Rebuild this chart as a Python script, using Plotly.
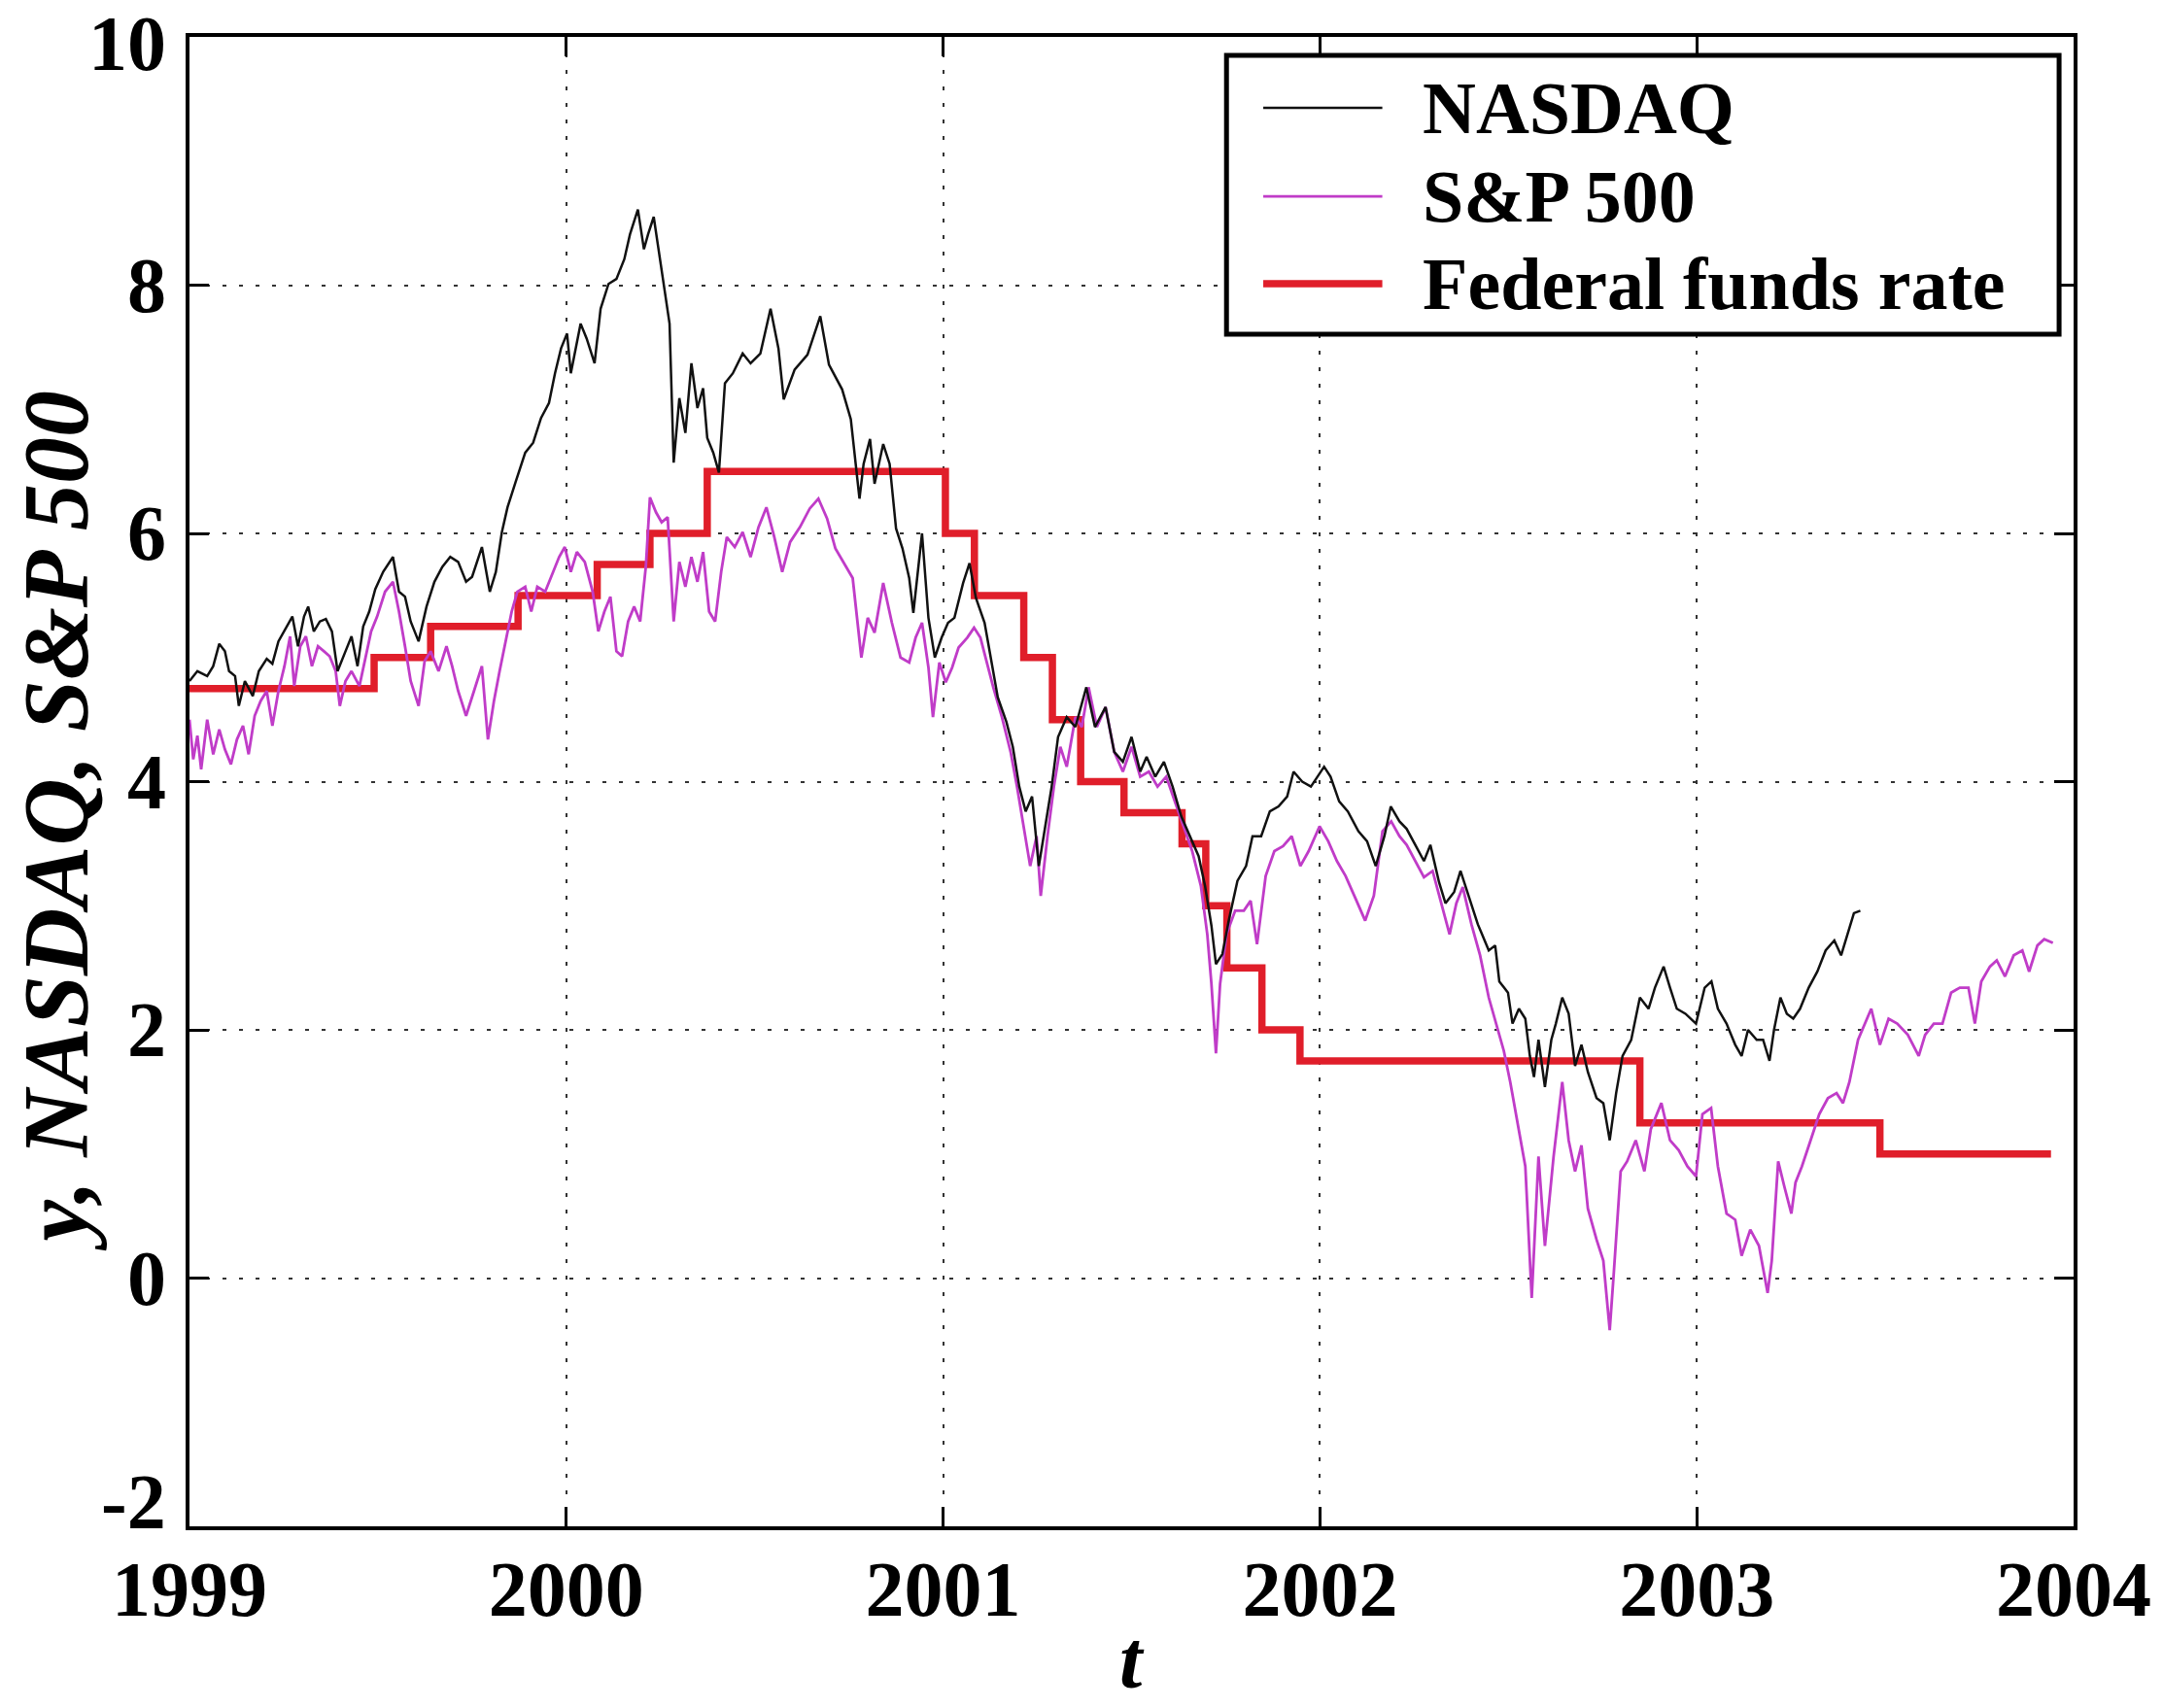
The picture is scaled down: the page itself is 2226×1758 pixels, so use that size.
import plotly.graph_objects as go

# NASDAQ (scaled)
nasdaq_t = [
    1999.000, 1999.021, 1999.047, 1999.063, 1999.079, 1999.094, 1999.105, 1999.121, 1999.131, 1999.147,
    1999.168, 1999.184, 1999.205, 1999.220, 1999.236, 1999.257, 1999.273, 1999.288, 1999.304, 1999.315,
    1999.330, 1999.346, 1999.362, 1999.378, 1999.393, 1999.414, 1999.430, 1999.446, 1999.461, 1999.477,
    1999.493, 1999.514, 1999.540, 1999.556, 1999.572, 1999.587, 1999.608, 1999.629, 1999.650, 1999.671,
    1999.692, 1999.713, 1999.734, 1999.750, 1999.776, 1999.797, 1999.813, 1999.829, 1999.844, 1999.865,
    1999.891, 1999.912, 1999.933, 1999.954, 1999.970, 1999.986, 2000.002, 2000.012, 2000.023, 2000.038,
    2000.054, 2000.075, 2000.091, 2000.112, 2000.133, 2000.154, 2000.169, 2000.190, 2000.206, 2000.217,
    2000.232, 2000.248, 2000.259, 2000.274, 2000.285, 2000.300, 2000.316, 2000.332, 2000.348, 2000.363,
    2000.374, 2000.390, 2000.405, 2000.421, 2000.442, 2000.468, 2000.489, 2000.515, 2000.542, 2000.563,
    2000.577, 2000.606, 2000.640, 2000.674, 2000.697, 2000.732, 2000.755, 2000.778, 2000.789, 2000.806,
    2000.818, 2000.841, 2000.858, 2000.875, 2000.892, 2000.910, 2000.921, 2000.944, 2000.961, 2000.978,
    2000.996, 2001.013, 2001.030, 2001.053, 2001.070, 2001.087, 2001.110, 2001.127, 2001.145, 2001.168,
    2001.185, 2001.202, 2001.219, 2001.236, 2001.254, 2001.271, 2001.288, 2001.305, 2001.328, 2001.351,
    2001.380, 2001.403, 2001.431, 2001.454, 2001.477, 2001.500, 2001.523, 2001.540, 2001.563, 2001.586,
    2001.609, 2001.632, 2001.655, 2001.678, 2001.695, 2001.712, 2001.724, 2001.741, 2001.758, 2001.781,
    2001.804, 2001.821, 2001.844, 2001.867, 2001.890, 2001.913, 2001.930, 2001.953, 2001.976, 2001.993,
    2002.011, 2002.028, 2002.051, 2002.074, 2002.102, 2002.125, 2002.148, 2002.171, 2002.188, 2002.211,
    2002.230, 2002.253, 2002.276, 2002.293, 2002.316, 2002.333, 2002.356, 2002.373, 2002.396, 2002.419,
    2002.448, 2002.465, 2002.476, 2002.499, 2002.511, 2002.528, 2002.545, 2002.557, 2002.568, 2002.580,
    2002.597, 2002.614, 2002.626, 2002.643, 2002.660, 2002.677, 2002.694, 2002.711, 2002.734, 2002.752,
    2002.769, 2002.786, 2002.803, 2002.826, 2002.849, 2002.872, 2002.889, 2002.912, 2002.929, 2002.947,
    2002.970, 2002.998, 2003.021, 2003.039, 2003.056, 2003.079, 2003.102, 2003.119, 2003.136, 2003.159,
    2003.176, 2003.193, 2003.205, 2003.222, 2003.239, 2003.256, 2003.274, 2003.297, 2003.320, 2003.342,
    2003.365, 2003.383, 2003.400, 2003.417, 2003.434,
]
nasdaq_v = [
    4.81, 4.89, 4.85, 4.93, 5.11, 5.05, 4.89, 4.85, 4.61, 4.81,
    4.69, 4.89, 4.99, 4.95, 5.13, 5.25, 5.33, 5.09, 5.33, 5.41,
    5.21, 5.29, 5.31, 5.21, 4.89, 5.05, 5.17, 4.93, 5.25, 5.37,
    5.55, 5.69, 5.81, 5.53, 5.49, 5.29, 5.13, 5.41, 5.61, 5.73,
    5.81, 5.77, 5.61, 5.65, 5.89, 5.53, 5.69, 6.01, 6.21, 6.41,
    6.65, 6.73, 6.93, 7.05, 7.29, 7.49, 7.61, 7.29, 7.45, 7.69,
    7.57, 7.37, 7.81, 8.01, 8.05, 8.21, 8.41, 8.61, 8.29, 8.41,
    8.55, 8.21, 8.01, 7.69, 6.57, 7.09, 6.81, 7.37, 7.01, 7.17,
    6.77, 6.65, 6.49, 7.21, 7.29, 7.45, 7.37, 7.45, 7.81, 7.49,
    7.08, 7.32, 7.44, 7.75, 7.36, 7.16, 6.92, 6.28, 6.56, 6.76,
    6.40, 6.72, 6.56, 6.04, 5.88, 5.64, 5.36, 6.00, 5.32, 5.00,
    5.16, 5.28, 5.32, 5.60, 5.76, 5.48, 5.28, 5.00, 4.68, 4.48,
    4.28, 3.96, 3.76, 3.88, 3.32, 3.64, 3.96, 4.36, 4.52, 4.44,
    4.76, 4.44, 4.60, 4.24, 4.16, 4.36, 4.08, 4.20, 4.04, 4.16,
    3.96, 3.72, 3.56, 3.40, 3.16, 2.84, 2.53, 2.61, 2.88, 3.20,
    3.32, 3.56, 3.56, 3.76, 3.80, 3.88, 4.08, 4.00, 3.96, 4.04,
    4.12, 4.04, 3.84, 3.76, 3.60, 3.52, 3.32, 3.56, 3.80, 3.68,
    3.62, 3.49, 3.36, 3.49, 3.19, 3.02, 3.11, 3.28, 3.06, 2.85,
    2.64, 2.68, 2.39, 2.30, 2.05, 2.17, 2.09, 1.79, 1.62, 1.92,
    1.54, 1.92, 2.05, 2.26, 2.13, 1.71, 1.88, 1.66, 1.45, 1.41,
    1.11, 1.49, 1.79, 1.92, 2.26, 2.17, 2.34, 2.51, 2.34, 2.17,
    2.13, 2.05, 2.34, 2.39, 2.17, 2.05, 1.88, 1.79, 2.00, 1.92,
    1.92, 1.75, 2.00, 2.26, 2.13, 2.09, 2.17, 2.34, 2.47, 2.64,
    2.72, 2.60, 2.77, 2.94, 2.96,
]

# S&P 500 (scaled)
sp_t = [
    1999.000, 1999.010, 1999.021, 1999.031, 1999.047, 1999.063, 1999.079, 1999.094, 1999.110, 1999.126,
    1999.142, 1999.157, 1999.173, 1999.189, 1999.205, 1999.220, 1999.236, 1999.252, 1999.267, 1999.278,
    1999.294, 1999.309, 1999.325, 1999.341, 1999.357, 1999.372, 1999.388, 1999.399, 1999.414, 1999.430,
    1999.451, 1999.467, 1999.482, 1999.498, 1999.519, 1999.540, 1999.556, 1999.572, 1999.587, 1999.608,
    1999.624, 1999.640, 1999.661, 1999.682, 1999.697, 1999.713, 1999.734, 1999.755, 1999.776, 1999.792,
    1999.808, 1999.823, 1999.839, 1999.855, 1999.870, 1999.891, 1999.907, 1999.923, 1999.944, 1999.965,
    1999.981, 1999.996, 2000.012, 2000.028, 2000.049, 2000.070, 2000.085, 2000.101, 2000.117, 2000.133,
    2000.148, 2000.164, 2000.180, 2000.196, 2000.211, 2000.222, 2000.238, 2000.253, 2000.269, 2000.285,
    2000.300, 2000.316, 2000.332, 2000.348, 2000.363, 2000.379, 2000.395, 2000.411, 2000.426, 2000.447,
    2000.468, 2000.489, 2000.510, 2000.531, 2000.552, 2000.573, 2000.594, 2000.620, 2000.646, 2000.669,
    2000.692, 2000.714, 2000.737, 2000.760, 2000.783, 2000.800, 2000.818, 2000.841, 2000.864, 2000.887,
    2000.910, 2000.927, 2000.944, 2000.961, 2000.973, 2000.990, 2001.007, 2001.024, 2001.041, 2001.064,
    2001.082, 2001.099, 2001.116, 2001.133, 2001.156, 2001.179, 2001.196, 2001.213, 2001.231, 2001.248,
    2001.259, 2001.277, 2001.294, 2001.311, 2001.328, 2001.351, 2001.368, 2001.386, 2001.408, 2001.431,
    2001.454, 2001.477, 2001.500, 2001.523, 2001.546, 2001.569, 2001.592, 2001.615, 2001.638, 2001.661,
    2001.684, 2001.701, 2001.712, 2001.724, 2001.735, 2001.752, 2001.775, 2001.798, 2001.816, 2001.833,
    2001.856, 2001.879, 2001.902, 2001.925, 2001.948, 2001.970, 2001.999, 2002.022, 2002.045, 2002.068,
    2002.097, 2002.120, 2002.143, 2002.166, 2002.189, 2002.211, 2002.230, 2002.253, 2002.276, 2002.299,
    2002.321, 2002.344, 2002.362, 2002.379, 2002.402, 2002.425, 2002.448, 2002.471, 2002.488, 2002.505,
    2002.522, 2002.545, 2002.562, 2002.580, 2002.597, 2002.620, 2002.643, 2002.660, 2002.677, 2002.694,
    2002.711, 2002.734, 2002.752, 2002.769, 2002.780, 2002.798, 2002.815, 2002.838, 2002.861, 2002.878,
    2002.906, 2002.929, 2002.952, 2002.975, 2002.998, 2003.015, 2003.038, 2003.056, 2003.079, 2003.102,
    2003.119, 2003.142, 2003.165, 2003.188, 2003.199, 2003.216, 2003.233, 2003.251, 2003.262, 2003.279,
    2003.302, 2003.325, 2003.348, 2003.371, 2003.388, 2003.405, 2003.428, 2003.446, 2003.463, 2003.486,
    2003.509, 2003.532, 2003.560, 2003.589, 2003.606, 2003.629, 2003.652, 2003.675, 2003.698, 2003.721,
    2003.738, 2003.755, 2003.778, 2003.796, 2003.818, 2003.841, 2003.864, 2003.882, 2003.904, 2003.922,
    2003.945,
]
sp_v = [
    4.50, 4.18, 4.37, 4.10, 4.50, 4.22, 4.42, 4.26, 4.14, 4.34,
    4.45, 4.22, 4.53, 4.65, 4.73, 4.45, 4.73, 4.93, 5.17, 4.77,
    5.09, 5.17, 4.93, 5.09, 5.05, 5.01, 4.89, 4.61, 4.81, 4.89,
    4.77, 5.01, 5.21, 5.33, 5.53, 5.61, 5.37, 5.09, 4.81, 4.61,
    4.97, 5.05, 4.89, 5.09, 4.93, 4.73, 4.53, 4.73, 4.93, 4.34,
    4.65, 4.89, 5.13, 5.37, 5.53, 5.57, 5.37, 5.57, 5.53, 5.69,
    5.81, 5.89, 5.69, 5.85, 5.77, 5.53, 5.21, 5.37, 5.49, 5.05,
    5.01, 5.29, 5.41, 5.29, 5.73, 6.29, 6.17, 6.09, 6.13, 5.29,
    5.77, 5.57, 5.81, 5.61, 5.85, 5.37, 5.29, 5.69, 5.97, 5.89,
    6.01, 5.81, 6.05, 6.21, 5.97, 5.69, 5.93, 6.05, 6.20, 6.28,
    6.12, 5.88, 5.76, 5.64, 5.00, 5.32, 5.20, 5.60, 5.28, 5.00,
    4.96, 5.16, 5.28, 4.92, 4.52, 4.96, 4.80, 4.92, 5.08, 5.16,
    5.24, 5.16, 4.96, 4.76, 4.52, 4.24, 3.96, 3.64, 3.32, 3.56,
    3.08, 3.56, 3.96, 4.28, 4.12, 4.52, 4.44, 4.76, 4.44, 4.60,
    4.24, 4.08, 4.28, 4.04, 4.08, 3.96, 4.04, 3.84, 3.64, 3.44,
    3.16, 2.77, 2.37, 1.81, 2.37, 2.77, 2.96, 2.96, 3.04, 2.69,
    3.24, 3.44, 3.48, 3.56, 3.32, 3.44, 3.64, 3.52, 3.36, 3.24,
    3.04, 2.88, 3.08, 3.60, 3.68, 3.56, 3.49, 3.36, 3.23, 3.28,
    3.02, 2.77, 3.02, 3.15, 2.85, 2.60, 2.26, 2.00, 1.83, 1.58,
    1.28, 0.90, -0.16, 0.98, 0.26, 0.98, 1.58, 1.11, 0.86, 1.07,
    0.56, 0.31, 0.14, -0.42, 0.05, 0.86, 0.94, 1.11, 0.86, 1.20,
    1.41, 1.11, 1.03, 0.90, 0.82, 1.32, 1.37, 0.90, 0.52, 0.47,
    0.18, 0.39, 0.26, -0.12, 0.14, 0.94, 0.73, 0.52, 0.77, 0.90,
    1.11, 1.32, 1.45, 1.49, 1.41, 1.58, 1.92, 2.05, 2.17, 1.88,
    2.09, 2.05, 1.96, 1.79, 1.96, 2.05, 2.05, 2.30, 2.34, 2.34,
    2.05, 2.39, 2.51, 2.56, 2.43, 2.60, 2.64, 2.47, 2.68, 2.73,
    2.70,
]

# Federal funds rate: date of each change and the new rate
ffr_t = [1999.000, 1999.490, 1999.640, 1999.872, 2000.082, 2000.222, 2000.374,
         2001.006, 2001.083, 2001.214, 2001.290, 2001.365, 2001.480, 2001.634,
         2001.697, 2001.753, 2001.846, 2001.947, 2002.849, 2003.486, 2003.940]
ffr_v = [4.75, 5.0, 5.25, 5.5, 5.75, 6.0, 6.5,
         6.0, 5.5, 5.0, 4.5, 4.0, 3.75, 3.5,
         3.0, 2.5, 2.0, 1.75, 1.25, 1.0, 1.0]

x_ticks = [1999, 2000, 2001, 2002, 2003, 2004]
y_ticks = [-2, 0, 2, 4, 6, 8, 10]

names = ["NASDAQ", "S&P 500", "Federal funds rate"]
colors = ["#111111", "#c03cc8", "#e01e2a"]
widths = [2.5, 2.8, 7.5]

FONT = "Liberation Serif"

fig = go.Figure()
fig.add_trace(go.Scatter(x=ffr_t, y=ffr_v, mode="lines", line_shape="hv",
                         line=dict(color=colors[2], width=widths[2]), name=names[2]))
fig.add_trace(go.Scatter(x=sp_t, y=sp_v, mode="lines",
                         line=dict(color=colors[1], width=widths[1]), name=names[1]))
fig.add_trace(go.Scatter(x=nasdaq_t, y=nasdaq_v, mode="lines",
                         line=dict(color=colors[0], width=widths[0]), name=names[0]))

axis_common = dict(
    showline=True, linecolor="black", linewidth=4, mirror="ticks",
    ticks="inside", ticklen=20, tickwidth=3, tickcolor="black",
    showgrid=True, gridcolor="#333333", gridwidth=2, griddash="4px,13px",
    zeroline=False,
)
tick_font = dict(family=FONT, size=80, color="black", weight="bold")
fig.update_xaxes(range=[1999, 2004], tickvals=x_ticks, ticktext=[str(v) for v in x_ticks],
                 tickfont=tick_font, ticklabelstandoff=-8, **axis_common)
# y labels are drawn as annotations: plotly hides "10" because it touches the top edge
fig.update_yaxes(range=[-2, 10], tickvals=y_ticks, showticklabels=False, **axis_common)

annotations = []
for v in y_ticks:
    shift = 0
    if v == y_ticks[0]:
        shift = 25      # bottom label sits above the corner, as in the original
    elif v == y_ticks[-1]:
        shift = -7      # keep the top label inside the page
    annotations.append(dict(text=str(v), xref="paper", yref="y", x=0, y=v,
                            xanchor="right", yanchor="middle", showarrow=False,
                            xshift=-22, yshift=shift, font=tick_font))

# hand-made legend box (long line samples like the original)
shapes = [dict(type="rect", xref="paper", yref="paper", x0=0.5504, x1=0.9923,
               y0=0.8004, y1=0.9876, line=dict(color="black", width=5),
               fillcolor="white", layer="above")]
row_y = [0.9524, 0.8930, 0.8343]
for name, col, w, yy in zip(names, colors, widths, row_y):
    shapes.append(dict(type="line", xref="paper", yref="paper", x0=0.5699, x1=0.6331,
                       y0=yy, y1=yy, line=dict(color=col, width=w), layer="above"))
    annotations.append(dict(text=name, xref="paper", yref="paper", x=0.6536, y=yy,
                            xanchor="left", yanchor="middle", showarrow=False,
                            font=dict(family=FONT, size=76, color="black", weight="bold")))

# axis titles
annotations.append(dict(text="t", xref="paper", yref="paper", x=0.5, y=-0.1213,
                        xanchor="center", yanchor="bottom", showarrow=False,
                        font=dict(family=FONT, size=84, color="black", weight="bold", style="italic")))
annotations.append(dict(text="y, NASDAQ, S&P 500", xref="paper", yref="paper", x=-0.071, y=0.474,
                        xanchor="center", yanchor="middle", showarrow=False, textangle=-90,
                        font=dict(family=FONT, size=96, color="black", weight="bold", style="italic")))

fig.update_layout(
    width=2226, height=1758,
    margin=dict(l=195, r=85, t=38, b=187),
    paper_bgcolor="white", plot_bgcolor="white",
    showlegend=False,
    shapes=shapes,
    annotations=annotations,
)

# drop the page's default 8px body margin so the figure fills the window exactly
fig.write_html("out.html", config={"displayModeBar": False},
               post_script="document.body.style.margin = '0px';")
